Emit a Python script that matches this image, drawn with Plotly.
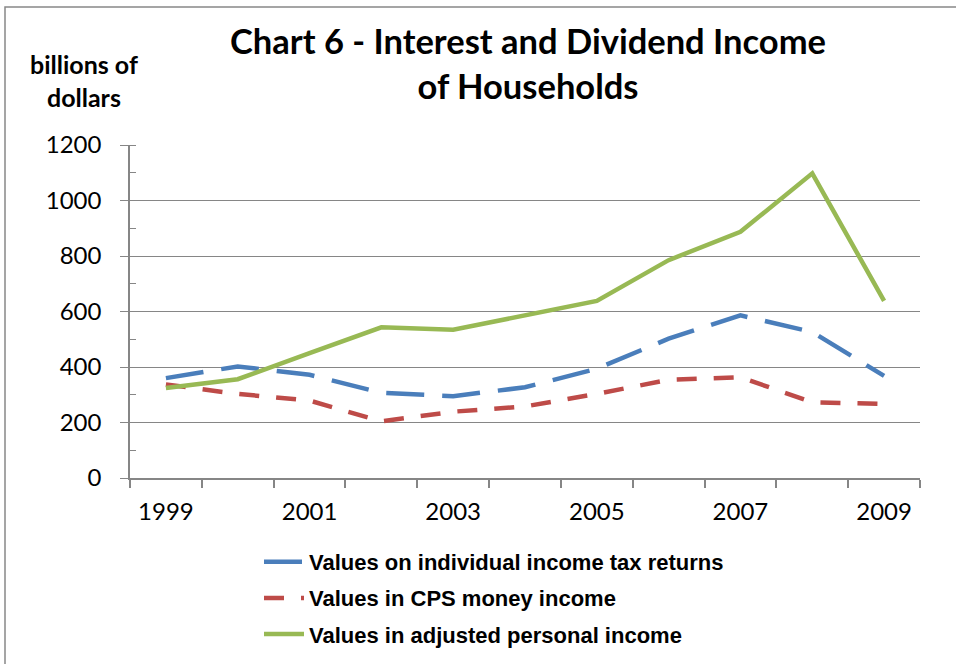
import plotly.graph_objects as go

years = [1999, 2000, 2001, 2002, 2003, 2004, 2005, 2006, 2007, 2008, 2009]
tax_returns = [360, 402, 372, 307, 295, 327, 394, 502, 586, 526, 368]
cps_money = [337, 303, 279, 204, 239, 258, 303, 354, 363, 273, 267]
adjusted_personal = [324, 356, 450, 543, 534, 585, 638, 785, 887, 1098, 638]
year_labels = ["1999", "2001", "2003", "2005", "2007", "2009"]
label_years = [1999, 2001, 2003, 2005, 2007, 2009]

W, H = 956, 664
L, R, T, B = 130, 36, 145, 186
pw, ph = W - L - R, H - T - B

fig = go.Figure()
fig.add_trace(go.Scatter(x=years, y=tax_returns, mode="lines",
                         name="Values on individual income tax returns", legendgroup="a",
                         line=dict(color="#4A7EBB", width=4.5, dash="38px,18px")))
fig.add_trace(go.Scatter(x=years, y=cps_money, mode="lines",
                         name="Values in CPS money income", legendgroup="b",
                         line=dict(color="#BE4B48", width=4.5, dash="20px,17px")))
fig.add_trace(go.Scatter(x=years, y=adjusted_personal, mode="lines",
                         name="Values in adjusted personal income", legendgroup="c",
                         line=dict(color="#98B954", width=4.5)))

axis_gray = "#868686"
fig.update_layout(
    width=W, height=H,
    margin=dict(l=L, r=R, t=T, b=B, autoexpand=False),
    paper_bgcolor="white", plot_bgcolor="white",
    title=dict(text="Chart 6 - Interest and Dividend Income<br>of Households",
               x=(L + pw / 2 + 3) / W, xanchor="center", xref="container",
               y=1 - 54 / H, yanchor="top", yref="container",
               font=dict(family="Lato", size=34.5, color="black", weight="bold")),
    xaxis=dict(range=[1998.5, 2009.5], tickmode="array", tickvals=label_years,
               ticktext=year_labels, ticks="", showgrid=False,
               showline=True, linecolor=axis_gray, linewidth=1.5,
               ticklabelstandoff=11, tickangle=0,
               tickfont=dict(family="Lato", size=24, color="black"),
               minor=dict(tickmode="linear", tick0=1998.5, dtick=1, ticks="outside",
                          ticklen=8, tickcolor=axis_gray, tickwidth=1.5, showgrid=False),
               zeroline=False, fixedrange=True, automargin=False),
    yaxis=dict(range=[0, 1200], dtick=200, ticks="outside", ticklen=8,
               tickcolor=axis_gray, tickwidth=1,
               showgrid=True, gridcolor=axis_gray, gridwidth=1,
               showline=True, linecolor=axis_gray, linewidth=1.5,
               ticklabelstandoff=14,
               tickfont=dict(family="Lato", size=24, color="black"),
               minor=dict(dtick=100, ticks="inside", ticklen=6, tickcolor=axis_gray,
                          tickwidth=1, showgrid=False),
               zeroline=False, fixedrange=True, automargin=False),
    legend=dict(x=(259 - L) / pw, xanchor="left",
                y=-(541 - T - ph) / ph, yanchor="top",
                font=dict(family="Liberation Sans", size=22, color="black", weight="bold"),
                traceorder="grouped", tracegroupgap=4.5, itemwidth=40,
                bgcolor="rgba(0,0,0,0)"),
    showlegend=True,
    annotations=[dict(text="billions of<br>dollars", xref="paper", yref="paper",
                      x=(84 - L) / pw, y=(H - B - 80) / ph, xanchor="center", yanchor="middle",
                      showarrow=False,
                      font=dict(family="Lato", size=25, color="black", weight="bold"))],
    shapes=[dict(type="rect", xref="paper", yref="paper",
                 x0=(5 - L) / pw, x1=(1000 - L) / pw,
                 y0=(H - B - 800) / ph, y1=(H - B - 7) / ph,
                 line=dict(color="#888888", width=1.5), fillcolor="rgba(0,0,0,0)",
                 layer="below")],
)
fig.write_html("out.html", config={"displayModeBar": False},
               post_script="document.body.style.margin='0';")
